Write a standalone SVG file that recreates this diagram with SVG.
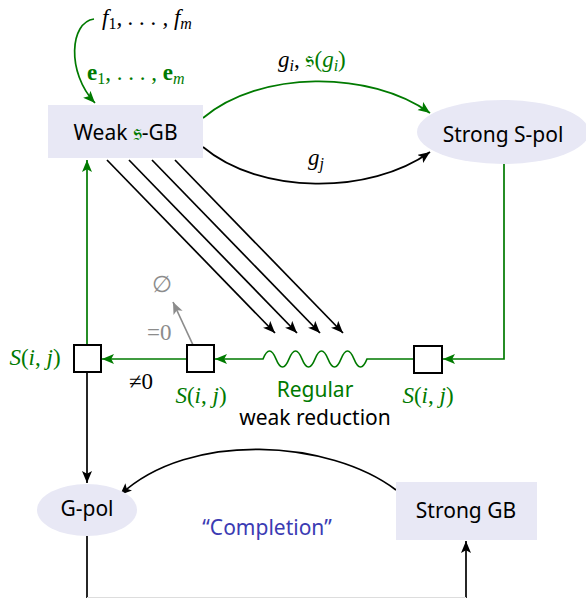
<svg xmlns="http://www.w3.org/2000/svg" width="586" height="598" viewBox="0 0 586 598">
<style>
.nodefill{fill:#e8e8f5;stroke:none}
.lbl{font-family:"Noto Sans","DejaVu Sans",sans-serif;font-size:21px;fill:#000}
.m{font-family:"Liberation Serif","DejaVu Serif",serif;font-size:23px}
.it{font-style:italic}
.g{fill:#007a00}
.k{fill:#000}
.gray{fill:#8c8c8c}
.blue{fill:#3b3bb3}
.sq{fill:#fff;stroke:#000;stroke-width:2}
.cb{fill:none;stroke:#000;stroke-width:1.7}
.cg{fill:none;stroke:#007a00;stroke-width:1.7}
.cgr{fill:none;stroke:#8c8c8c;stroke-width:1.7}
.fr{font-family:"DejaVu Serif","DejaVu Sans",serif;font-size:24px}
</style>
<defs>
<marker id="ab" markerUnits="userSpaceOnUse" markerWidth="13" markerHeight="11" refX="12" refY="5" orient="auto"><path d="M0,0 L12,5 L0,10 L2.8,5 z" fill="#000"/></marker>
<marker id="ag" markerUnits="userSpaceOnUse" markerWidth="13" markerHeight="11" refX="12" refY="5" orient="auto"><path d="M0,0 L12,5 L0,10 L2.8,5 z" fill="#007a00"/></marker>
<marker id="agr" markerUnits="userSpaceOnUse" markerWidth="13" markerHeight="11" refX="12" refY="5" orient="auto"><path d="M0,0 L12,5 L0,10 L2.8,5 z" fill="#8c8c8c"/></marker>
</defs>

<g id="connectors">
<path class="cg" d="M94,19 C70,22 66,72 95,103" marker-end="url(#ag)"/>
<path class="cg" d="M203,118 C260,70 370,70 430,113" marker-end="url(#ag)"/>
<path class="cb" d="M203,147 C260,195 370,195 430,152" marker-end="url(#ab)"/>
<path class="cb" d="M107,160 L275,333" marker-end="url(#ab)"/>
<path class="cb" d="M129,160 L297,333" marker-end="url(#ab)"/>
<path class="cb" d="M152,160 L320,333" marker-end="url(#ab)"/>
<path class="cb" d="M175,160 L343,333" marker-end="url(#ab)"/>
<path class="cg" d="M504,164 L504,359 L443,359" marker-end="url(#ag)"/>
<path class="cg" d="M413,359 L367,359 Q360.5,375 354,359 T341,359 T328,359 T315,359 T302,359 T289,359 T276,359 T263,359 L215,359" marker-end="url(#ag)"/>
<path class="cg" d="M187,359 L102,359" marker-end="url(#ag)"/>
<path class="cgr" d="M193,345 L173,302" marker-end="url(#agr)"/>
<path class="cg" d="M87,345 L87,160" marker-end="url(#ag)"/>
<path class="cb" d="M87,372 L87,483" marker-end="url(#ab)"/>
<path class="cb" d="M396,490 C330,440 190,430 120,495" marker-end="url(#ab)"/>
<path class="cb" d="M87,536 L87,598"/>
<path class="cb" d="M466,598 L466,541" marker-end="url(#ab)"/>
<path d="M87,597.5 L466,597.5" stroke="#dddddd" stroke-width="1" fill="none"/>
</g>

<g id="inputs">
<text class="m it" x="102" y="25">f<tspan font-style="normal" font-size="16" dy="4">1</tspan><tspan dy="-4">, . . . , </tspan>f<tspan font-size="16" dy="4">m</tspan></text>
<text class="m g" x="87" y="80"><tspan font-weight="bold">e</tspan><tspan font-size="16" dy="4">1</tspan><tspan dy="-4">, . . . , </tspan><tspan font-weight="bold">e</tspan><tspan font-size="16" font-style="italic" dy="4">m</tspan></text>
</g>

<g id="weak-gb">
<rect class="nodefill" x="48" y="105" width="155" height="53"/>
<text class="lbl" x="125.5" y="140" text-anchor="middle">Weak <tspan class="g fr">𝔰</tspan>-GB</text>
</g>

<g id="strong-spol">
<ellipse class="nodefill" cx="503" cy="132" rx="86" ry="32"/>
<text class="lbl" x="503" y="142" text-anchor="middle">Strong S-pol</text>
</g>

<g id="edge-labels">
<text class="m" x="278" y="67"><tspan class="it">g</tspan><tspan class="it" font-size="16" dy="4">i</tspan><tspan dy="-4">, </tspan><tspan class="g fr">𝔰</tspan><tspan class="g">(</tspan><tspan class="g it">g</tspan><tspan class="g it" font-size="16" dy="4">i</tspan><tspan class="g" dy="-4">)</tspan></text>
<text class="m it" x="308" y="165">g<tspan font-size="16" dy="4">j</tspan></text>
</g>

<g id="pair-right">
<rect class="sq" x="414" y="346" width="28" height="27"/>
<text class="m g" x="428" y="403" text-anchor="middle"><tspan class="it">S</tspan>(<tspan class="it">i</tspan>, <tspan class="it">j</tspan>)</text>
</g>

<g id="reduction-label">
<text class="lbl g" x="315" y="397" text-anchor="middle">Regular</text>
<text class="lbl" x="315" y="425" text-anchor="middle">weak reduction</text>
</g>

<g id="pair-middle">
<rect class="sq" x="187" y="345" width="27" height="27"/>
<text class="m g" x="201" y="403" text-anchor="middle"><tspan class="it">S</tspan>(<tspan class="it">i</tspan>, <tspan class="it">j</tspan>)</text>
<text class="m gray" x="147" y="340">=0</text>
<text class="m gray" x="152" y="292">∅</text>
</g>

<g id="pair-left">
<rect class="sq" x="74" y="345" width="27" height="27"/>
<text class="m g" x="35" y="365" text-anchor="middle"><tspan class="it">S</tspan>(<tspan class="it">i</tspan>, <tspan class="it">j</tspan>)</text>
<text class="m" x="129" y="389">≠0</text>
</g>

<g id="g-pol">
<ellipse class="nodefill" cx="87" cy="510" rx="50" ry="26"/>
<text class="lbl" x="87" y="516" text-anchor="middle">G-pol</text>
</g>

<g id="strong-gb">
<rect class="nodefill" x="396" y="482" width="141" height="58"/>
<text class="lbl" x="466" y="518" text-anchor="middle">Strong GB</text>
</g>

<g id="completion">
<text class="lbl blue" x="267" y="535" text-anchor="middle">“Completion”</text>
</g>
</svg>
